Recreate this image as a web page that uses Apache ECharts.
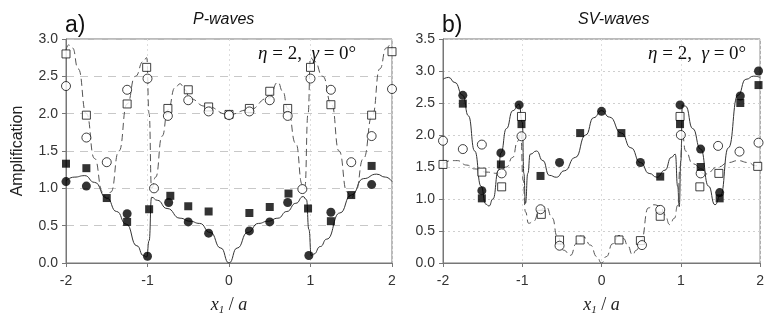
<!DOCTYPE html>
<html>
<head>
<meta charset="utf-8">
<script src="https://cdn.jsdelivr.net/npm/echarts@6/dist/echarts.min.js"></script>
<style>
html, body { margin: 0; padding: 0; background: #fff; }
#chart { width: 767px; height: 321px; }
</style>
</head>
<body>
<div id="chart"></div>
<script>
// 축 눈금
const xTicks = [-2, -1, 0, 1, 2];
const yTicksA = [0, 0.5, 1.0, 1.5, 2.0, 2.5, 3.0];
const yTicksB = [0, 0.5, 1.0, 1.5, 2.0, 2.5, 3.0, 3.5];

// a) P-waves
const pSolid = [[-2,1.10],[-1.9,1.15],[-1.77,1.17],[-1.65,1.08],[-1.5,0.87],[-1.38,0.69],[-1.26,0.52],[-1.13,0.23],[-1.05,0.10],[-1.01,0.08],[-0.98,0.3],[-0.95,0.88],[-0.88,0.84],[-0.76,0.73],[-0.6,0.60],[-0.48,0.56],[-0.36,0.53],[-0.23,0.41],[-0.1,0.2],[0,0],[0.1,0.2],[0.23,0.41],[0.36,0.53],[0.48,0.56],[0.6,0.6],[0.71,0.69],[0.82,0.8],[0.91,0.89],[0.95,0.85],[0.98,0.45],[1.01,0.1],[1.04,0.12],[1.12,0.22],[1.2,0.32],[1.36,0.67],[1.5,0.91],[1.65,1.13],[1.81,1.19],[1.92,1.15],[2,1.09]];
const pDashed = [[-2,2.85],[-1.97,2.92],[-1.92,2.88],[-1.85,2.6],[-1.75,2.0],[-1.65,1.4],[-1.55,0.95],[-1.5,0.86],[-1.45,0.95],[-1.35,1.5],[-1.25,2.13],[-1.15,2.5],[-1.05,2.7],[-1.01,2.75],[-0.98,2.0],[-0.95,1.0],[-0.9,1.15],[-0.82,1.7],[-0.75,2.05],[-0.66,2.35],[-0.6,2.40],[-0.54,2.32],[-0.48,2.2],[-0.29,2.1],[0,1.99],[0.24,2.05],[0.49,2.21],[0.6,2.42],[0.66,2.3],[0.72,2.07],[0.82,1.6],[0.9,1.05],[0.93,1.0],[0.97,2.0],[1.0,2.75],[1.05,2.7],[1.15,2.5],[1.26,2.12],[1.35,1.5],[1.45,0.95],[1.5,0.86],[1.55,0.95],[1.65,1.4],[1.76,1.98],[1.85,2.6],[1.93,2.88],[1.98,2.92],[2,2.85]];
const pFilledCircle = [[-2,1.09],[-1.75,1.03],[-1.25,0.66],[-1.0,0.09],[-0.74,0.81],[-0.5,0.55],[-0.25,0.40],[0.25,0.43],[0.5,0.55],[0.72,0.81],[0.98,0.10],[1.25,0.68],[1.75,1.05]];
const pFilledSquare = [[-2,1.33],[-1.75,1.27],[-1.5,0.87],[-1.25,0.55],[-0.98,0.72],[-0.72,0.90],[-0.5,0.76],[-0.25,0.69],[0.25,0.67],[0.5,0.75],[0.73,0.93],[0.97,0.73],[1.25,0.56],[1.5,0.91],[1.75,1.30]];
const pOpenCircle = [[-2,2.37],[-1.75,1.68],[-1.5,1.35],[-1.25,2.32],[-1.0,2.47],[-0.92,1.0],[-0.75,1.97],[-0.5,2.18],[-0.25,2.03],[0,1.98],[0.25,2.03],[0.5,2.18],[0.72,1.97],[0.9,0.99],[1.0,2.47],[1.25,2.32],[1.5,1.35],[1.75,1.70],[2,2.33]];
const pOpenSquare = [[-2,2.80],[-1.75,1.98],[-1.25,2.13],[-1.01,2.62],[-0.75,2.07],[-0.5,2.32],[-0.25,2.09],[0,1.99],[0.25,2.07],[0.5,2.30],[0.72,2.07],[1.0,2.62],[1.25,2.12],[1.75,1.98],[2,2.83]];

// b) SV-waves
const svSolid = [[-2,2.87],[-1.93,2.90],[-1.85,2.82],[-1.75,2.62],[-1.68,2.3],[-1.6,1.75],[-1.52,1.2],[-1.46,0.92],[-1.42,0.89],[-1.37,1.0],[-1.3,1.45],[-1.27,1.72],[-1.2,2.1],[-1.12,2.38],[-1.04,2.48],[-1.0,2.2],[-0.98,1.4],[-0.96,0.93],[-0.93,1.4],[-0.9,1.70],[-0.82,1.75],[-0.74,1.6],[-0.66,1.37],[-0.57,1.34],[-0.47,1.44],[-0.33,1.65],[-0.2,2.0],[-0.1,2.27],[0,2.38],[0.1,2.28],[0.25,2.03],[0.37,1.8],[0.49,1.57],[0.6,1.4],[0.7,1.34],[0.8,1.45],[0.88,1.65],[0.93,1.7],[0.96,1.2],[0.98,0.88],[1.0,1.6],[1.02,2.47],[1.06,2.45],[1.15,2.1],[1.25,1.78],[1.35,1.2],[1.43,0.91],[1.5,1.05],[1.6,1.8],[1.72,2.62],[1.82,2.87],[1.92,2.92],[2,2.9]];
const svDashed = [[-2,1.54],[-1.9,1.6],[-1.82,1.6],[-1.7,1.53],[-1.6,1.47],[-1.45,1.42],[-1.31,1.40],[-1.2,1.5],[-1.12,1.65],[-1.06,1.9],[-1.02,2.05],[-0.99,1.3],[-0.96,0.8],[-0.92,0.62],[-0.86,0.65],[-0.78,0.82],[-0.7,0.88],[-0.62,0.7],[-0.56,0.42],[-0.48,0.2],[-0.39,0.12],[-0.32,0.3],[-0.27,0.42],[-0.22,0.40],[-0.14,0.28],[-0.06,0.1],[0,0],[0.06,0.1],[0.14,0.3],[0.22,0.43],[0.28,0.38],[0.33,0.27],[0.39,0.13],[0.44,0.2],[0.5,0.35],[0.59,0.86],[0.66,0.91],[0.74,0.89],[0.8,0.75],[0.86,0.6],[0.92,0.7],[0.96,0.9],[0.99,1.5],[1.02,2.0],[1.06,1.75],[1.15,1.55],[1.31,1.39],[1.47,1.5],[1.6,1.57],[1.72,1.6],[1.85,1.57],[1.94,1.52],[2,1.52]];
const svFilledCircle = [[-1.75,2.62],[-1.51,1.13],[-1.27,1.72],[-1.04,2.47],[-0.53,1.57],[0,2.37],[0.49,1.57],[0.99,2.47],[1.25,1.78],[1.49,1.10],[1.75,2.61],[1.98,3.0]];
const svFilledSquare = [[-1.75,2.49],[-1.51,1.01],[-1.27,1.54],[-1.01,2.17],[-0.77,1.36],[-0.27,2.03],[0.25,2.03],[0.74,1.35],[0.99,2.17],[1.25,1.50],[1.49,1.01],[1.75,2.50],[1.98,2.78]];
const svOpenCircle = [[-2,1.91],[-1.75,1.78],[-1.51,1.85],[-1.26,1.40],[-1.01,1.98],[-0.77,0.84],[-0.53,0.27],[0.51,0.28],[0.74,0.83],[1.0,2.0],[1.25,1.40],[1.47,1.83],[1.74,1.74],[1.98,1.88]];
const svOpenSquare = [[-2,1.54],[-1.51,1.42],[-1.26,1.19],[-1.01,2.29],[-0.76,0.76],[-0.53,0.36],[-0.27,0.36],[0.22,0.36],[0.49,0.35],[0.74,0.73],[0.99,2.29],[1.24,1.19],[1.48,1.40],[1.97,1.51]];

document.addEventListener('DOMContentLoaded', function() {
    const chart = echarts.init(document.getElementById('chart'));
    const sans = 'Liberation Sans, Arial, sans-serif';
    const serif = 'Liberation Serif, Times New Roman, serif';

    function xAxis(idx) {
        return {
            gridIndex: idx, type: 'value', min: xTicks[0], max: xTicks[xTicks.length - 1], interval: 1,
            name: '{i|x}{s|1}{n| / }{i|a}', nameLocation: 'middle', nameGap: 31,
            nameTextStyle: {
                rich: {
                    i: { fontFamily: serif, fontStyle: 'italic', fontSize: 18, color: '#222', lineHeight: 22 },
                    s: { fontFamily: serif, fontStyle: 'italic', fontSize: 11, color: '#222', lineHeight: 12, verticalAlign: 'bottom' },
                    n: { fontFamily: serif, fontSize: 18, color: '#222', lineHeight: 22 }
                }
            },
            axisLine: { show: true, onZero: false, lineStyle: { color: '#777' } },
            axisTick: { show: true, length: 4, lineStyle: { color: '#777' } },
            axisLabel: { color: '#333', fontFamily: sans, fontSize: 14, margin: 11 },
            splitLine: { show: true, lineStyle: { color: '#ddd', type: [2, 3] } }
        };
    }
    function yAxis(idx, ticks, dash, color, withName) {
        return {
            gridIndex: idx, type: 'value', min: 0, max: ticks[ticks.length - 1], interval: 0.5,
            name: withName ? 'Amplification' : '', nameLocation: 'middle', nameGap: 40,
            nameTextStyle: { fontFamily: sans, fontSize: 16, color: '#222' },
            axisLine: { show: true, onZero: false, lineStyle: { color: '#777' } },
            axisTick: { show: true, length: 4, lineStyle: { color: '#777' } },
            axisLabel: { color: '#333', fontFamily: sans, fontSize: 14, margin: 8,
                formatter: function(v) { return v.toFixed(1); } },
            splitLine: { show: true, lineStyle: { color: color, type: dash } }
        };
    }
    function curve(idx, data, dashed) {
        return {
            type: 'line', xAxisIndex: idx, yAxisIndex: idx, data: data,
            showSymbol: false, smooth: 0.55, smoothMonotone: 'x', silent: true, z: 2,
            lineStyle: dashed ? { color: '#555', width: 1, type: [7, 4] } : { color: '#333', width: 1 }
        };
    }
    function marks(idx, data, symbol, filled) {
        return {
            type: 'scatter', xAxisIndex: idx, yAxisIndex: idx, data: data,
            symbol: symbol, symbolSize: symbol === 'rect' ? 8 : 9, z: filled ? 4 : 3,
            itemStyle: filled ? { color: '#000' } : { color: '#fff', borderColor: '#111', borderWidth: 1 }
        };
    }
    function label(x, y, text, font, size, italic) {
        return { type: 'text', x: x, y: y, style: {
            text: text, fontFamily: font, fontSize: size, fontStyle: italic ? 'italic' : 'normal',
            fill: '#111', verticalAlign: 'middle' } };
    }
    function eqn(x, y) {
        return { type: 'text', x: x, y: y, style: {
            text: '{i|η}{n| = 2,  }{i|γ}{n| = 0°}', verticalAlign: 'middle',
            rich: {
                i: { fontFamily: serif, fontStyle: 'italic', fontSize: 19, fill: '#111' },
                n: { fontFamily: serif, fontSize: 19, fill: '#111' }
            } } };
    }

    const option = {
        animation: false,
        backgroundColor: '#fff',
        grid: [
            { left: 66, top: 39, width: 326, height: 229, show: true, borderColor: '#777', borderWidth: 1 },
            { left: 443, top: 39, width: 325, height: 229, show: true, borderColor: '#777', borderWidth: 1 }
        ],
        xAxis: [xAxis(0), xAxis(1)],
        yAxis: [
            yAxis(0, yTicksA, [8, 6], '#c8c8c8', true),
            yAxis(1, yTicksB, [2, 3], '#cfcfcf', false)
        ],
        graphic: [
            label(65, 26, 'a)', sans, 23, false),
            label(442, 26, 'b)', sans, 23, false),
            label(193, 20, 'P-waves', sans, 16, true),
            label(578, 20, 'SV-waves', sans, 16, true),
            eqn(258, 54),
            eqn(648, 54)
        ],
        series: [
            curve(0, pSolid, false), curve(0, pDashed, true),
            marks(0, pOpenSquare, 'rect', false), marks(0, pOpenCircle, 'circle', false),
            marks(0, pFilledSquare, 'rect', true), marks(0, pFilledCircle, 'circle', true),
            curve(1, svSolid, false), curve(1, svDashed, true),
            marks(1, svOpenSquare, 'rect', false), marks(1, svOpenCircle, 'circle', false),
            marks(1, svFilledSquare, 'rect', true), marks(1, svFilledCircle, 'circle', true)
        ]
    };
    chart.setOption(option);
});
</script>
</body>
</html>
